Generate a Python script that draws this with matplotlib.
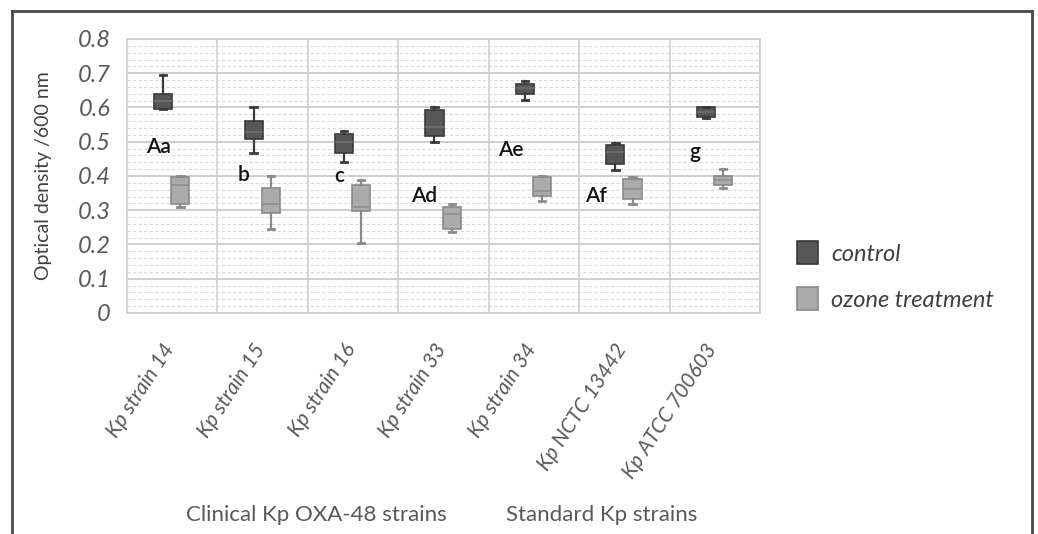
import numpy as np
import matplotlib.pyplot as plt
from matplotlib.lines import Line2D
from matplotlib import transforms

# Strains and box statistics (optical density /600 nm)
strains = ["Kp strain 14", "Kp strain 15", "Kp strain 16", "Kp strain 33",
           "Kp strain 34", "Kp NCTC 13442", "Kp ATCC 700603"]

ctrl_lo = [0.595, 0.467, 0.442, 0.500, 0.621, 0.416, 0.568]
ctrl_q1 = [0.597, 0.508, 0.466, 0.518, 0.638, 0.435, 0.571]
ctrl_med = [0.620, 0.529, 0.498, 0.544, 0.656, 0.469, 0.586]
ctrl_q3 = [0.640, 0.561, 0.522, 0.593, 0.669, 0.491, 0.601]
ctrl_hi = [0.695, 0.600, 0.530, 0.600, 0.677, 0.497, 0.602]

ozo_lo = [0.308, 0.246, 0.205, 0.235, 0.326, 0.319, 0.366]
ozo_q1 = [0.317, 0.293, 0.297, 0.245, 0.343, 0.332, 0.375]
ozo_med = [0.375, 0.317, 0.310, 0.290, 0.355, 0.362, 0.387]
ozo_q3 = [0.398, 0.366, 0.374, 0.308, 0.398, 0.392, 0.400]
ozo_hi = [0.400, 0.400, 0.387, 0.319, 0.400, 0.398, 0.421]

letters = ["Aa", "b", "c", "Ad", "Ae", "Af", "g"]
letter_y = [0.484, 0.403, 0.400, 0.343, 0.477, 0.343, 0.469]
letter_dx = [-0.29, -0.28, -0.21, -0.36, -0.40, -0.43, -0.28]

groups = ["Clinical Kp OXA-48 strains", "Standard Kp strains"]

FONT = ["Lato", "DejaVu Sans"]
GREY_TXT = "#595959"


def make_stats(lo, q1, med, q3, hi):
    return [dict(whislo=a, q1=b, med=c, q3=d, whishi=e, fliers=[])
            for a, b, c, d, e in zip(lo, q1, med, q3, hi)]


fig = plt.figure(figsize=(10.38, 5.34), dpi=100)
ax = fig.add_axes([0.1224, 0.4139, 0.6098, 0.5131])

x = np.arange(len(strains))


def draw(stats, pos, face, edge, medc):
    return ax.bxp(stats, positions=pos, widths=0.2, capwidths=0.07,
                  patch_artist=True, showfliers=False,
                  boxprops=dict(facecolor=face, edgecolor=edge, lw=1.2),
                  whiskerprops=dict(color=edge, lw=1.6),
                  capprops=dict(color=edge, lw=2.0),
                  medianprops=dict(color=medc, lw=1.2), zorder=3)


b_ctrl = draw(make_stats(ctrl_lo, ctrl_q1, ctrl_med, ctrl_q3, ctrl_hi),
              x - 0.1, "#575757", "#3a3a3a", "#6e6e6e")
b_ozo = draw(make_stats(ozo_lo, ozo_q1, ozo_med, ozo_q3, ozo_hi),
             x + 0.09, "#ababab", "#8a8a8a", "#8f8f8f")

for xi, lab, ly, dx in zip(x, letters, letter_y, letter_dx):
    ax.text(xi + dx, ly, lab, fontsize=15, family=FONT, color="#111111",
            fontweight="semibold", ha="left", va="center", zorder=4)

ax.set_xlim(-0.5, len(strains) - 0.5)
ax.set_ylim(0, 0.8)
ax.set_yticks(np.arange(0, 0.81, 0.1))
ax.set_yticklabels(["0"] + [f"{v:.1f}" for v in np.arange(0.1, 0.81, 0.1)])
ax.set_yticks(np.arange(0, 0.8, 0.02), minor=True)
ax.set_xticks(x)
ax.set_xticks(np.arange(-0.5, len(strains)), minor=True)

ax.grid(axis="y", which="major", color="#cfcfcf", lw=1.4)
ax.grid(axis="y", which="minor", color="#dadada", lw=0.8, ls=(0, (3, 2)))
ax.grid(axis="x", which="minor", color="#cfcfcf", lw=1.2)
ax.set_axisbelow(True)
for s in ax.spines.values():
    s.set_color("#d0d0d0")
    s.set_linewidth(1.2)

ax.tick_params(which="both", length=0)
ax.tick_params(axis="y", pad=12)
for t in ax.get_yticklabels():
    t.set(fontsize=17, style="italic", color=GREY_TXT, family=FONT)

off = transforms.ScaledTranslation(-0.02, -0.28, fig.dpi_scale_trans)
ax.set_xticklabels(strains, rotation=57, ha="right", rotation_mode="anchor",
                   va="center")
for t in ax.get_xticklabels():
    t.set(fontsize=15, style="italic", color=GREY_TXT, family=FONT)
    t.set_transform(t.get_transform() + off)

ax.set_ylabel("Optical density /600 nm", fontsize=14, color="#404040",
              family=FONT, labelpad=18)

# group captions under the strains
fig.text(316 / 1038, 1 - 515 / 534, groups[0], fontsize=16, color=GREY_TXT,
         family=FONT, ha="center", va="center")
fig.text(602 / 1038, 1 - 515 / 534, groups[1], fontsize=16, color=GREY_TXT,
         family=FONT, ha="center", va="center")

leg = ax.legend([b_ctrl["boxes"][0], b_ozo["boxes"][0]], ["control", "ozone treatment"],
                loc="center left", bbox_to_anchor=(1.025, 0.135), frameon=False,
                handlelength=0.9, handleheight=1.1, labelspacing=0.95,
                handletextpad=0.55, prop=dict(family=FONT, style="italic", size=17))
for t in leg.get_texts():
    t.set_color("#404040")

# outer frame of the original graphic
kw = dict(color="#4a4a4a", lw=2, transform=fig.transFigure)
fig.add_artist(Line2D([12 / 1038, 12 / 1038], [0, 1 - 11 / 534], **kw))
fig.add_artist(Line2D([12 / 1038, 1032 / 1038], [1 - 11 / 534, 1 - 11 / 534], **kw))
fig.add_artist(Line2D([1032 / 1038, 1032 / 1038], [0, 1 - 11 / 534], **kw))

fig.savefig("out.png", dpi=100)
